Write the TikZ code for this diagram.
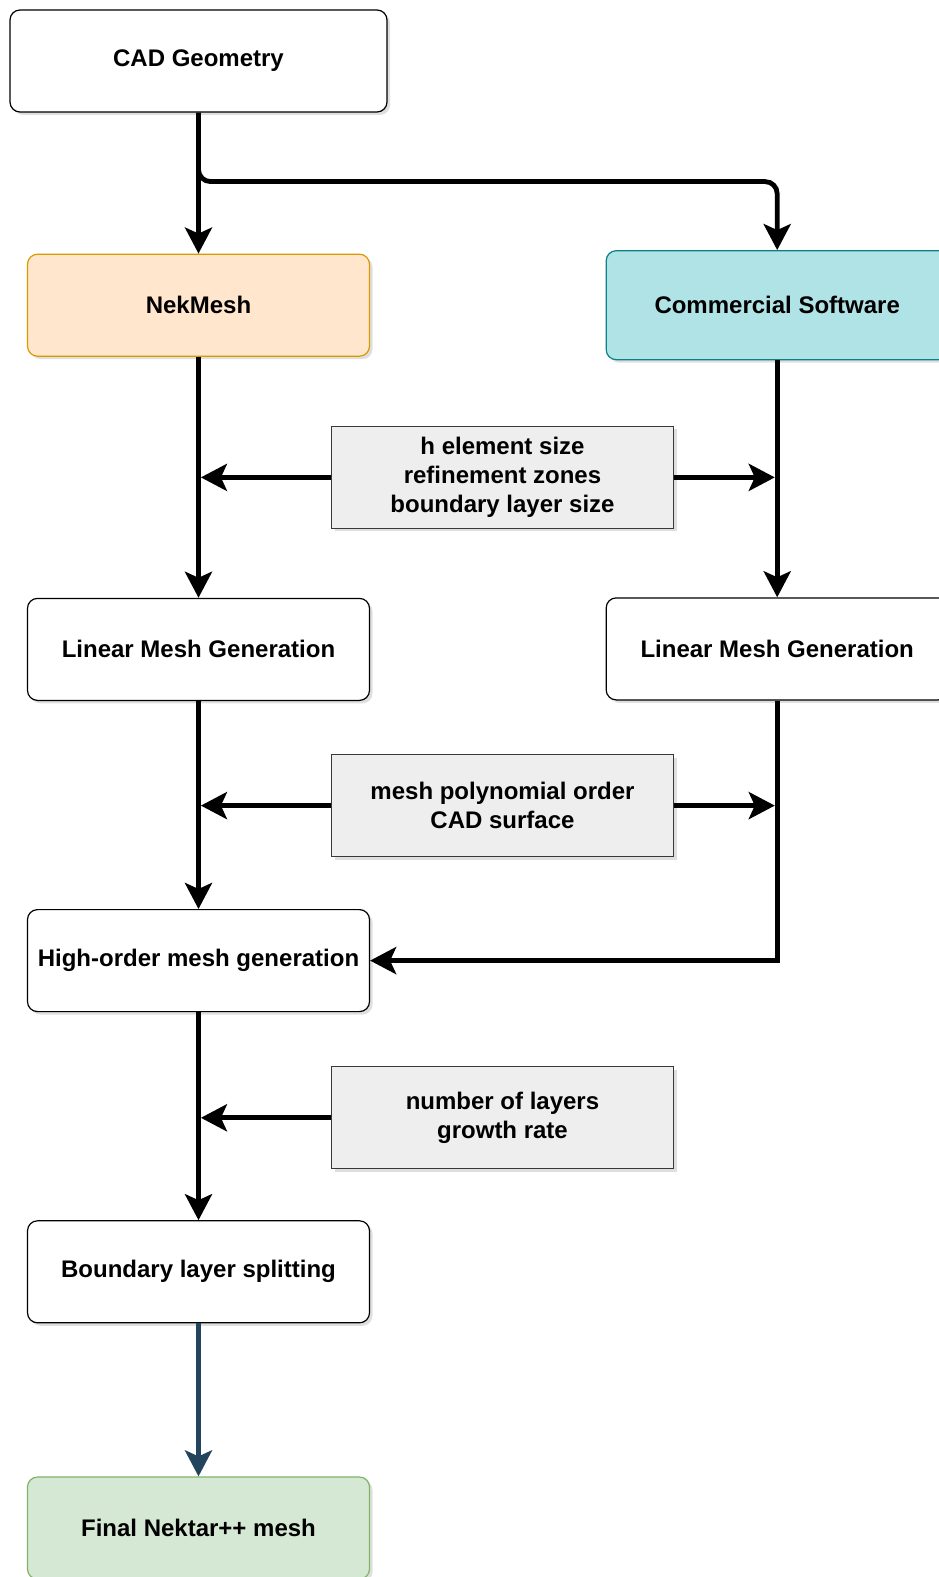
\documentclass[tikz,border=0pt]{standalone}
\usepackage{fontspec}
\setmainfont{Liberation Sans}
\usetikzlibrary{positioning,arrows.meta,shadows}
\definecolor{nekfill}{HTML}{FFE6CC}
\definecolor{nekdraw}{HTML}{D79B00}
\definecolor{comfill}{HTML}{B0E3E6}
\definecolor{comdraw}{HTML}{0E8088}
\definecolor{finfill}{HTML}{D5E8D4}
\definecolor{findraw}{HTML}{82B366}
\definecolor{parfill}{HTML}{EEEEEE}
\definecolor{pardraw}{HTML}{36393D}
\definecolor{finline}{HTML}{23445D}

\begin{document}
\begin{tikzpicture}[
				box/.style={draw=black, line width=0.6pt, rounded corners=5pt, fill=white, minimum width=171pt, minimum height=51pt, align=center, font=\bfseries\fontsize{12}{14.6}\selectfont, drop shadow={shadow xshift=1.5pt, shadow yshift=-1.5pt, opacity=0.25}},
				param/.style={box, sharp corners, fill=parfill, draw=pardraw},
				arrow/.style={-{Stealth[length=13pt, width=13.5pt, inset=3pt]}, line width=2.4pt}
			]
			\useasboundingbox (0,0) rectangle (469pt,-788.5pt);

			% Main column
			\node[box, minimum width=188.5pt] (cad) at (99.25pt,-30.5pt) {CAD Geometry};
			\node[box, fill=nekfill, draw=nekdraw, below=70.5pt of cad] (nek) {NekMesh};
			\node[box, fill=comfill, draw=comdraw, minimum height=54.5pt, right=117.75pt of nek] (com) {Commercial Software};
			\node[box, below=120.5pt of nek] (lin1) {Linear Mesh Generation};
			\node[box, below=118.5pt of com] (lin2) {Linear Mesh Generation};
			\node[box, below=104pt of lin1] (high) {High-order mesh generation};
			\node[box, below=104pt of high] (bls) {Boundary layer splitting};
			\node[box, fill=finfill, draw=findraw, below=76.5pt of bls] (fin) {Final Nektar++ mesh};

			% Parameters
			\node[param, below=34.5pt of nek, xshift=152pt] (g1) {h element size\\refinement zones\\boundary layer size};
			\node[param, below=26.5pt of lin1, xshift=152pt] (g2) {mesh polynomial order\\CAD surface};
			\node[param, below=27pt of high, xshift=152pt] (g3) {number of layers\\growth rate};

			% Arrows
			\draw[arrow] (cad) -- (nek);
			\draw[arrow, rounded corners=6pt] (cad.south) -- ++(0,-34.5pt) -| (com.north);
			\draw[arrow] (nek) -- (lin1);
			\draw[arrow] (com) -- (lin2);
			\draw[arrow, shorten >=1.2pt] (g1) -- (g1 -| nek);
			\draw[arrow, shorten >=1.2pt] (g1) -- (g1 -| com);
			\draw[arrow] (lin1) -- (high);
			\draw[arrow, shorten >=1.2pt] (g2) -- (g2 -| lin1);
			\draw[arrow, shorten >=1.2pt] (g2) -- (g2 -| lin2);
			\draw[arrow] (lin2) |- (high);
			\draw[arrow] (high) -- (bls);
			\draw[arrow, shorten >=1.2pt] (g3) -- (g3 -| high);
			\draw[arrow, color=finline] (bls) -- (fin);
		\end{tikzpicture}
\end{document}
